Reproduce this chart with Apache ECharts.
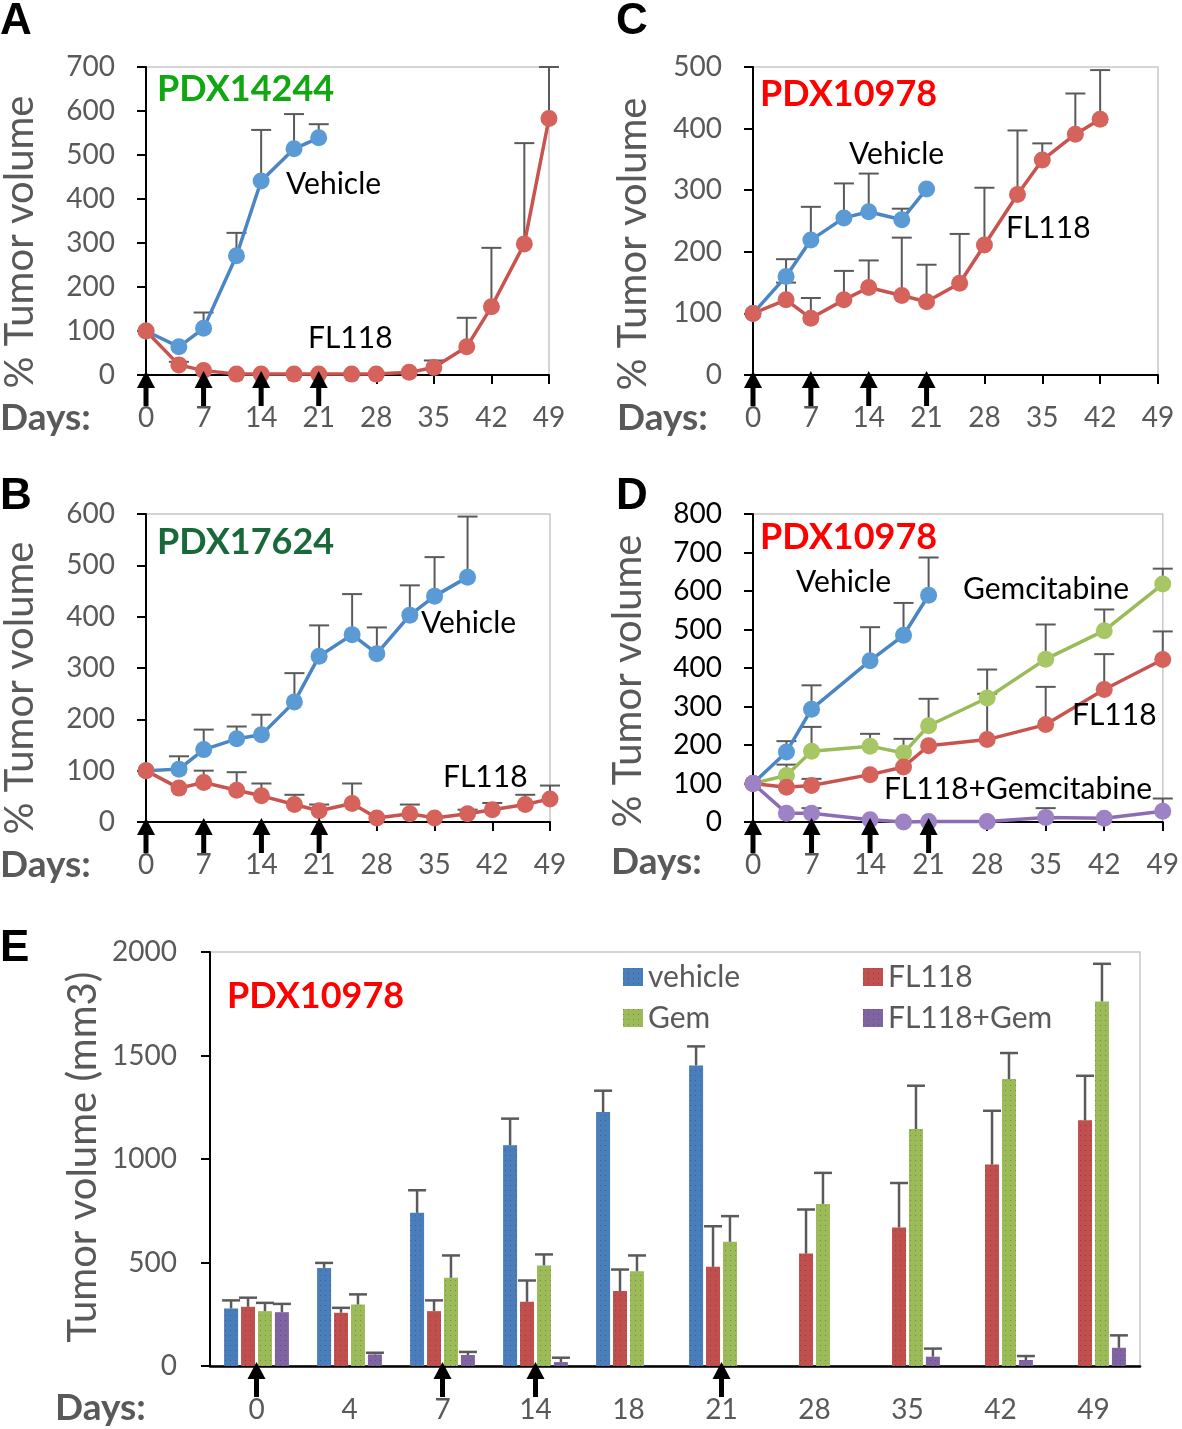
<!DOCTYPE html>
<html lang="en">
<head>
    <meta charset="UTF-8">
    <title>PDX tumor volume</title>
    <style>
        body { margin: 0; background: #fff; }
        #chart { width: 1182px; height: 1429px; }
    </style>
</head>
<body>
    <div id="chart"></div>
    <script src="https://cdn.jsdelivr.net/npm/echarts@6/dist/echarts.min.js"></script>
    <script>
        // ---- data ----
        const doseDays = [0, 7, 14, 21];

        // A: PDX14244
        const daysA_veh = [0, 4, 7, 11, 14, 18, 21];
        const A_veh = [100, 64, 106, 271, 441, 514, 539];
        const A_veh_err = [null, null, 142, 323, 557, 593, 570];
        const daysA_fl = [0, 4, 7, 11, 14, 18, 21, 25, 28, 32, 35, 39, 42, 46, 49];
        const A_fl = [100, 23, 10, 2, 2, 2, 2, 2, 2, 6, 17, 64, 155, 298, 583];
        const A_fl_err = [null, 30, null, null, null, null, null, null, null, null, 33, 130, 289, 527, 700];

        // C: PDX10978
        const daysC_veh = [0, 4, 7, 11, 14, 18, 21];
        const C_veh = [100, 160, 219, 255, 265, 252, 302];
        const C_veh_err = [null, 188, 273, 311, 327, 270, null];
        const daysC_fl = [0, 4, 7, 11, 14, 18, 21, 25, 28, 32, 35, 39, 42];
        const C_fl = [100, 122, 92, 122, 142, 129, 119, 149, 211, 293, 349, 391, 415];
        const C_fl_err = [null, 150, 125, 169, 186, 223, 179, 229, 304, 397, 376, 457, 495];

        // B: PDX17624
        const daysB_veh = [0, 4, 7, 11, 14, 18, 21, 25, 28, 32, 35, 39];
        const B_veh = [100, 103, 141, 162, 170, 234, 323, 365, 328, 403, 440, 477];
        const B_veh_err = [null, 128, 180, 186, 209, 290, 383, 444, 379, 461, 516, 595];
        const daysB_fl = [0, 4, 7, 11, 14, 18, 21, 25, 28, 32, 35, 39, 42, 46, 49];
        const B_fl = [100, 66, 77, 62, 51, 34, 22, 36, 8, 16, 8, 16, 24, 34, 45];
        const B_fl_err = [null, null, 100, 97, 75, 53, 34, 75, null, 34, null, 24, 37, 53, 71];

        // D: PDX10978 with gemcitabine
        const daysD_veh = [0, 4, 7, 14, 18, 21];
        const D_veh = [100, 182, 293, 419, 485, 589];
        const D_veh_err = [null, 210, 355, 506, 569, 687];
        const daysD = [0, 4, 7, 14, 18, 21, 28, 35, 42, 49];
        const D_gem = [100, 121, 184, 197, 179, 250, 322, 423, 497, 618];
        const D_gem_err = [null, 149, 247, 229, 216, 320, 396, 513, 552, 658];
        const D_fl = [100, 90, 95, 123, 143, 198, 214, 253, 344, 422];
        const D_fl_err = [null, null, 112, null, null, null, 333, 351, 436, 495];
        const D_combo = [100, 23, 23, 6, 0, 1, 1, 12, 10, 28];
        const D_combo_err = [null, null, 36, null, null, null, null, 36, null, 61];

        // E: absolute volume (mm3)
        const E_days = ['0', '4', '7', '14', '18', '21', '28', '35', '42', '49'];
        const E_veh = [278, 474, 740, 1066, 1227, 1452, null, null, null, null];
        const E_veh_err = [317, 498, 849, 1195, 1330, 1544, null, null, null, null];
        const E_fl = [286, 257, 265, 310, 362, 479, 543, 669, 973, 1187];
        const E_fl_err = [330, 281, 317, 413, 466, 675, 756, 884, 1233, 1402];
        const E_gem = [265, 297, 426, 486, 458, 600, 783, 1145, 1386, 1761];
        const E_gem_err = [305, 346, 534, 539, 534, 724, 933, 1354, 1512, 1943];
        const E_combo = [260, 56, 53, 19, null, null, null, 45, 29, 88];
        const E_combo_err = [300, 64, 68, 40, null, null, null, 84, 48, 148];

        // ---- styling ----
        const FONT = 'Lato';
        const GRAY = '#595959';
        const ERR = '#5a5a5a';
        const BLUE = { line: '#4a86c6', mark: '#5b9bd5' };
        const RED = { line: '#c9534f', mark: '#d6625c' };
        const GREEN = { line: '#9bbb59', mark: '#a6c763' };
        const PURPLE = { line: '#8c6cb4', mark: '#9d83c6' };
        const BAR_W = 14, BAR_GAP = 0.21;

        const chart = echarts.init(document.getElementById('chart'), null, { renderer: 'canvas' });

        const grids = [
            { left: 146, top: 67, width: 403, height: 308 },   // A
            { left: 753, top: 67, width: 405, height: 308 },   // C
            { left: 146, top: 514, width: 404, height: 308 },  // B
            { left: 753, top: 514, width: 411, height: 308 },  // D
            { left: 210, top: 952, width: 930, height: 414 }   // E
        ].map(g => Object.assign(g, { show: true, borderColor: '#c8c8c8', borderWidth: 1.5 }));

        const yMax = [700, 500, 600, 800];

        const xAxes = [0, 1, 2, 3].map(i => ({
            type: 'value', gridIndex: i, min: 0, max: 49, interval: 7,
            axisLine: { show: true, lineStyle: { color: '#000', width: 2 } },
            axisTick: { show: true, length: 9, lineStyle: { color: '#000', width: 2 } },
            axisLabel: { color: GRAY, fontSize: 28, fontFamily: FONT, margin: 29 },
            splitLine: { show: false }
        }));
        xAxes.push({
            type: 'category', gridIndex: 4, data: E_days,
            axisLine: { show: true, lineStyle: { color: '#000', width: 2.5 } },
            axisTick: { show: false },
            axisLabel: { color: GRAY, fontSize: 28, fontFamily: FONT, margin: 30 },
            splitLine: { show: false }
        });

        const yAxes = [0, 1, 2, 3].map(i => ({
            type: 'value', gridIndex: i, min: 0, max: yMax[i], interval: 100,
            axisLine: { show: true, lineStyle: { color: '#000', width: 2 } },
            axisTick: { show: true, length: 9, lineStyle: { color: '#000', width: 2 } },
            axisLabel: { color: i === 3 ? '#000' : GRAY, fontSize: 28, fontFamily: FONT, margin: 31 },
            splitLine: { show: false }
        }));
        yAxes.push({
            type: 'value', gridIndex: 4, min: 0, max: 2000, interval: 500,
            axisLine: { show: true, lineStyle: { color: '#000', width: 2 } },
            axisTick: { show: true, length: 9, lineStyle: { color: '#000', width: 2 } },
            axisLabel: { color: GRAY, fontSize: 28, fontFamily: FONT, margin: 33, formatter: v => String(v) },
            splitLine: { show: false }
        });

        function errRender(params, api) {
            const x = api.value(0), v = api.value(1), u = api.value(2);
            const p0 = api.coord([x, v]);
            const p1 = api.coord([x, u]);
            return {
                type: 'group',
                children: [
                    { type: 'line', shape: { x1: p0[0], y1: p0[1], x2: p1[0], y2: p1[1] }, style: { stroke: ERR, lineWidth: 2 } },
                    { type: 'line', shape: { x1: p1[0] - 10, y1: p1[1], x2: p1[0] + 10, y2: p1[1] }, style: { stroke: ERR, lineWidth: 2 } }
                ]
            };
        }

        function arrowRender(params, api) {
            const p = api.coord([api.value(0), 0]);
            const x = p[0], y = p[1];
            return {
                type: 'group',
                children: [
                    { type: 'polygon', shape: { points: [[x, y - 4], [x - 9, y + 13], [x + 9, y + 13]] }, style: { fill: '#000' } },
                    { type: 'rect', shape: { x: x - 2.5, y: y + 10, width: 5, height: 21 }, style: { fill: '#000' } }
                ]
            };
        }

        function lineSeries(gi, name, days, vals, col) {
            return {
                type: 'line', name: name, xAxisIndex: gi, yAxisIndex: gi,
                data: days.map((d, i) => [d, vals[i]]),
                symbol: 'circle', symbolSize: 17, clip: false, z: 4,
                lineStyle: { color: col.line, width: 3.5 },
                itemStyle: { color: col.mark },
                emphasis: { disabled: true }
            };
        }

        function errSeries(gi, days, vals, errs) {
            const data = [];
            days.forEach((d, i) => { if (errs[i] != null) data.push([d, vals[i], errs[i]]); });
            return { type: 'custom', xAxisIndex: gi, yAxisIndex: gi, data: data, renderItem: errRender, z: 3, silent: true };
        }

        function arrowSeries(gi, data) {
            return { type: 'custom', xAxisIndex: gi, yAxisIndex: gi, data: data, renderItem: arrowRender, z: 6, silent: true, clip: false };
        }

        const series = [];
        // A
        series.push(errSeries(0, daysA_veh, A_veh, A_veh_err), errSeries(0, daysA_fl, A_fl, A_fl_err));
        series.push(lineSeries(0, 'A Vehicle', daysA_veh, A_veh, BLUE), lineSeries(0, 'A FL118', daysA_fl, A_fl, RED));
        // C
        series.push(errSeries(1, daysC_veh, C_veh, C_veh_err), errSeries(1, daysC_fl, C_fl, C_fl_err));
        series.push(lineSeries(1, 'C Vehicle', daysC_veh, C_veh, BLUE), lineSeries(1, 'C FL118', daysC_fl, C_fl, RED));
        // B
        series.push(errSeries(2, daysB_veh, B_veh, B_veh_err), errSeries(2, daysB_fl, B_fl, B_fl_err));
        series.push(lineSeries(2, 'B Vehicle', daysB_veh, B_veh, BLUE), lineSeries(2, 'B FL118', daysB_fl, B_fl, RED));
        // D
        series.push(errSeries(3, daysD_veh, D_veh, D_veh_err), errSeries(3, daysD, D_gem, D_gem_err),
            errSeries(3, daysD, D_fl, D_fl_err), errSeries(3, daysD, D_combo, D_combo_err));
        series.push(lineSeries(3, 'D Vehicle', daysD_veh, D_veh, BLUE), lineSeries(3, 'D Gem', daysD, D_gem, GREEN),
            lineSeries(3, 'D FL118', daysD, D_fl, RED), lineSeries(3, 'D Combo', daysD, D_combo, PURPLE));
        [0, 1, 2, 3].forEach(gi => series.push(arrowSeries(gi, doseDays.map(d => [d]))));

        // E bars
        const decal = { symbol: 'rect', symbolSize: 1, dashArrayX: [1, 4], dashArrayY: [1, 4], color: 'rgba(50,30,30,0.3)', rotation: 0 };
        const barSets = [
            { name: 'vehicle', vals: E_veh, errs: E_veh_err, color: '#4a7ebb' },
            { name: 'FL118', vals: E_fl, errs: E_fl_err, color: '#c0504d' },
            { name: 'Gem', vals: E_gem, errs: E_gem_err, color: '#9bbb59' },
            { name: 'FL118+Gem', vals: E_combo, errs: E_combo_err, color: '#8064a2' }
        ];
        barSets.forEach((b, slot) => {
            series.push({
                type: 'bar', name: b.name, xAxisIndex: 4, yAxisIndex: 4,
                data: b.vals, barWidth: BAR_W, barGap: (BAR_GAP * 100) + '%',
                itemStyle: { color: b.color, decal: decal },
                emphasis: { disabled: true }, z: 2
            });
            const data = [];
            b.vals.forEach((v, i) => { if (v != null && b.errs[i] != null) data.push([i, v, b.errs[i], slot]); });
            series.push({
                type: 'custom', xAxisIndex: 4, yAxisIndex: 4, data: data, silent: true, z: 3,
                renderItem: function (params, api) {
                    const off = (api.value(3) - 1.5) * BAR_W * (1 + BAR_GAP);
                    const p0 = api.coord([api.value(0), api.value(1)]);
                    const p1 = api.coord([api.value(0), api.value(2)]);
                    const x = p0[0] + off;
                    return {
                        type: 'group',
                        children: [
                            { type: 'line', shape: { x1: x, y1: p0[1], x2: x, y2: p1[1] }, style: { stroke: ERR, lineWidth: 2.5 } },
                            { type: 'line', shape: { x1: x - 9, y1: p1[1], x2: x + 9, y2: p1[1] }, style: { stroke: ERR, lineWidth: 2.5 } }
                        ]
                    };
                }
            });
        });
        series.push(arrowSeries(4, doseDays.map(d => [E_days.indexOf(String(d))])));

        // ---- text ----
        function txt(text, x, y, size, color, opts) {
            opts = opts || {};
            return {
                type: 'text', x: x, y: y, rotation: opts.rotation || 0, z: 10, silent: true,
                style: {
                    text: text, x: 0, y: 0, fill: color,
                    font: (opts.weight || 'normal') + ' ' + size + 'px ' + (opts.family || FONT),
                    textAlign: opts.align || 'left', textVerticalAlign: 'middle'
                }
            };
        }
        const R = Math.PI / 2;
        const graphic = [
            // panel letters
            txt('A', 0, 22, 44, '#000', { weight: 'bold', family: 'Liberation Sans' }),
            txt('C', 616, 22, 44, '#000', { weight: 'bold', family: 'Liberation Sans' }),
            txt('B', 0, 497, 44, '#000', { weight: 'bold', family: 'Liberation Sans' }),
            txt('D', 616, 497, 44, '#000', { weight: 'bold', family: 'Liberation Sans' }),
            txt('E', 0, 949, 44, '#000', { weight: 'bold', family: 'Liberation Sans' }),
            // y titles
            txt('% Tumor volume', 20, 242, 40, GRAY, { rotation: R, align: 'center' }),
            txt('% Tumor volume', 633, 244, 40, GRAY, { rotation: R, align: 'center' }),
            txt('% Tumor volume', 20, 688, 40, GRAY, { rotation: R, align: 'center' }),
            txt('% Tumor volume', 628, 681, 40, GRAY, { rotation: R, align: 'center' }),
            txt('Tumor volume (mm3)', 83, 1157, 40, GRAY, { rotation: R, align: 'center' }),
            // Days:
            txt('Days:', 0, 418, 37, GRAY, { weight: 'bold' }),
            txt('Days:', 617, 418, 37, GRAY, { weight: 'bold' }),
            txt('Days:', 0, 865, 37, GRAY, { weight: 'bold' }),
            txt('Days:', 611, 862, 37, GRAY, { weight: 'bold' }),
            txt('Days:', 55, 1408, 37, GRAY, { weight: 'bold' }),
            // PDX titles
            txt('PDX14244', 157, 89, 36, '#10a810', { weight: 'bold' }),
            txt('PDX10978', 760, 94, 36, '#ff0000', { weight: 'bold' }),
            txt('PDX17624', 157, 542, 36, '#17693a', { weight: 'bold' }),
            txt('PDX10978', 760, 537, 36, '#ff0000', { weight: 'bold' }),
            txt('PDX10978', 227, 996, 36, '#ff0000', { weight: 'bold' }),
            // series annotations
            txt('Vehicle', 286, 184, 30, '#000'),
            txt('FL118', 308, 338, 30, '#000'),
            txt('Vehicle', 849, 154, 30, '#000'),
            txt('FL118', 1006, 228, 30, '#000'),
            txt('Vehicle', 421, 623, 30, '#000'),
            txt('FL118', 443, 777, 30, '#000'),
            txt('Vehicle', 796, 582, 30, '#000'),
            txt('Gemcitabine', 963, 589, 30, '#000'),
            txt('FL118', 1072, 715, 30, '#000'),
            txt('FL118+Gemcitabine', 884, 789, 30, '#000')
        ];

        const legendBase = {
            orient: 'vertical', icon: 'rect', itemWidth: 20, itemHeight: 18, itemGap: 11, padding: 0,
            selectedMode: false,
            textStyle: { color: GRAY, fontSize: 30, fontFamily: FONT, lineHeight: 30 }
        };

        chart.setOption({
            animation: false,
            textStyle: { fontFamily: FONT },
            grid: grids,
            xAxis: xAxes,
            yAxis: yAxes,
            legend: [
                Object.assign({}, legendBase, { left: 623, top: 962, data: ['vehicle', 'Gem'] }),
                Object.assign({}, legendBase, { left: 863, top: 962, data: ['FL118', 'FL118+Gem'] })
            ],
            series: series,
            graphic: graphic
        });
    </script>
</body>
</html>
